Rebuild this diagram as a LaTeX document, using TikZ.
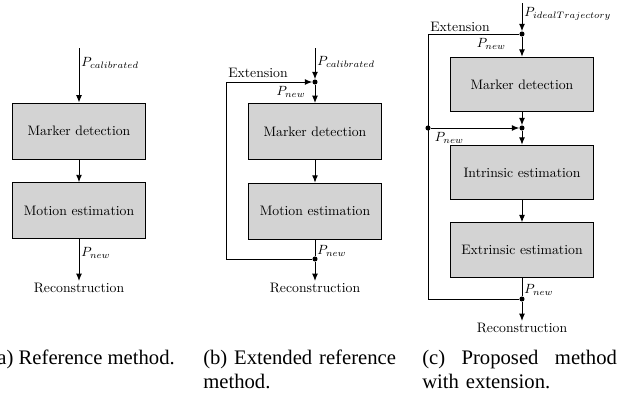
\documentclass[tikz,border=0pt]{standalone}
\usepackage{fontspec}
\usepackage{xcolor}
\usepackage{tikz}
\usetikzlibrary{arrows.meta, positioning, calc}

\newfontfamily\capfont{Liberation Serif}
\newcommand{\difont}{\fontsize{10.3}{12}\selectfont}
\definecolor{boxgray}{RGB}{211,211,211}

\begin{document}
\begin{tikzpicture}[
    x=0.75pt, y=-0.75pt,
    block/.style={rectangle, draw=black, line width=0.7pt, fill=boxgray, minimum width=100pt, minimum height=42pt, font=\difont},
    wide/.style={minimum width=107pt, minimum height=41pt},
    arrow/.style={-{Latex[length=5.5pt,width=4.4pt]}, line width=0.7pt},
    wire/.style={line width=0.7pt},
    junc/.style={circle, fill=black, inner sep=0pt, minimum size=3.8pt},
    lbl/.style={font=\difont, inner sep=1.5pt},
    captext/.style={font=\capfont\fontsize{15.5}{18}\selectfont, inner sep=0pt, align=left}
]
\useasboundingbox (0,0) rectangle (633,401);

% (a) Reference method
\node[block] (mda) at (79,131) {Marker detection};
\node[block, below=17pt of mda] (mea) {Motion estimation};
\coordinate (ina) at (79,48);
\node[lbl, anchor=north] (reca) at (79,281) {Reconstruction};

\draw[arrow] (ina) -- node[lbl, right, pos=0.27] {$P_{calibrated}$} (mda);
\draw[arrow] (mda) -- (mea);
\draw[arrow] (mea) -- node[lbl, right, pos=0.34] {$P_{new}$} (reca);

% (b) Extended reference method
\node[block] (mdb) at (315,131.5) {Marker detection};
\node[block, below=17pt of mdb] (meb) {Motion estimation};
\coordinate (inb) at (315,48);
\node[junc] (jtb) at (315,82) {};
\node[junc] (jbb) at (315,259) {};
\coordinate (ltb) at (226,82);
\coordinate (lbb) at (226,259);
\node[lbl, anchor=north] (recb) at (315,281) {Reconstruction};

\draw[arrow] (inb) -- node[lbl, right, pos=0.44] {$P_{calibrated}$} (jtb);
\draw[arrow] (jtb) -- (mdb);
\draw[arrow] (mdb) -- (meb);
\draw[wire] (meb) -- node[lbl, right, pos=0.68] {$P_{new}$} (jbb);
\draw[arrow] (jbb) -- (recb);
\draw[arrow] (jbb) -- (lbb) -- (ltb) -- (jtb);
\node[lbl, anchor=south west, yshift=1.5pt] at (ltb) {Extension};
\node[lbl, below left=0pt and 4pt of jtb] {$P_{new}$};

% (c) Proposed method with extension
\node[block, wide] (mdc) at (522,84.5) {Marker detection};
\node[junc] (jmc) at (522,128) {};
\node[block, wide] (iec) at (522,172.5) {Intrinsic estimation};
\node[block, wide, below=16.5pt of iec] (eec) {Extrinsic estimation};
\coordinate (inc) at (522,3);
\node[junc] (jtc) at (522,34) {};
\node[junc] (jbc) at (522,299) {};
\coordinate (ltc) at (428,34);
\coordinate (lbc) at (428,299);
\node[junc] (jlc) at (428,128) {};
\node[lbl, anchor=north] (recc) at (522,321) {Reconstruction};

\draw[arrow] (inc) -- node[lbl, right, pos=0.39] {$P_{idealTrajectory}$} (jtc);
\draw[arrow] (jtc) -- (mdc);
\draw[arrow] (mdc) -- (jmc);
\draw[arrow] (jmc) -- (iec);
\draw[arrow] (iec) -- (eec);
\draw[wire] (eec) -- node[lbl, right, pos=0.68] {$P_{new}$} (jbc);
\draw[arrow] (jbc) -- (recc);
\draw[wire] (jbc) -- (lbc) -- (ltc) -- (jtc);
\draw[arrow] (jlc) -- (jmc);
\node[lbl, anchor=south west] at (ltc) {Extension};
\node[lbl, below left=0pt and 9pt of jtc] {$P_{new}$};
\node[lbl, below right=0pt and 2pt of jlc] {$P_{new}$};

% Captions
\node[captext, anchor=base east] (capa) at (175,364) {(a) Reference method.};
\node[captext, anchor=north west, text width=146pt] (capb) at (203,350) {(b) Extended reference\\method.};
\node[captext, anchor=north west, text width=146pt] (capc) at (422,350) {\hbox to 146pt{(c)\hfil Proposed\hfil method}\\with extension.};

\end{tikzpicture}
\end{document}
